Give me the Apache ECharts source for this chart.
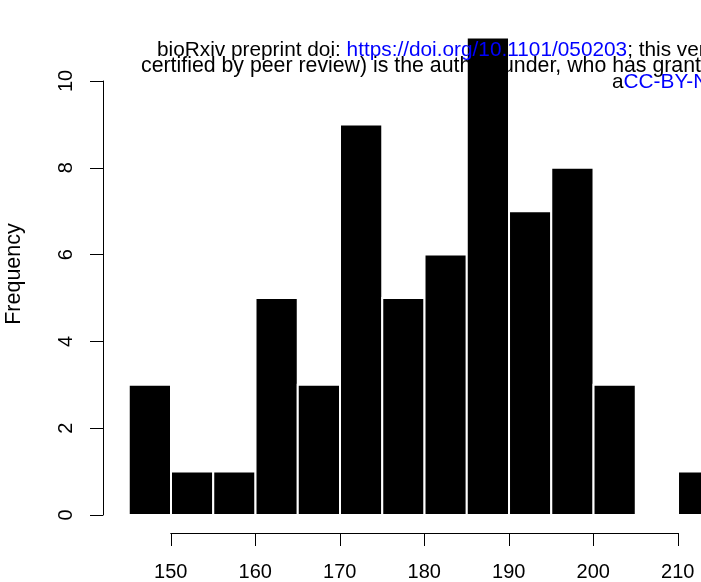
<!DOCTYPE html>
<html>
<head>
<meta charset="utf-8">
<script src="https://cdn.jsdelivr.net/npm/echarts@6/dist/echarts.min.js"></script>
<style>
  html, body { margin: 0; padding: 0; background: #fff; }
  #chart { width: 701px; height: 582px; }
</style>
</head>
<body>
<div id="chart"></div>
<script>
// Histogram bins (width 5) and their counts
const binStarts = [145, 150, 155, 160, 165, 170, 175, 180, 185, 190, 195, 200, 205, 210];
const binWidth = 5;
const counts = [3, 1, 1, 5, 3, 9, 5, 6, 11, 7, 8, 3, 0, 1];

// Axis ticks
const xTicks = [150, 160, 170, 180, 190, 200, 210];
const yTicks = [0, 2, 4, 6, 8, 10];

const yLabel = 'Frequency';
const FONT = 'Liberation Sans, Arial, Helvetica, sans-serif';

const bars = binStarts.map((s, i) => [s, s + binWidth, counts[i]]);

const chart = echarts.init(document.getElementById('chart'), null, { renderer: 'canvas' });

chart.setOption({
  animation: false,
  backgroundColor: '#ffffff',
  grid: [
    // plotting region: x 145..212.5 (last bin runs past the right edge), y 0..10
    { left: 128.75, top: 81, width: 570.4, height: 434 },
    // region that carries the bottom axis, spanning 150..210 only
    { left: 170.75, top: 500, width: 507, height: 33 }
  ],
  xAxis: [
    { gridIndex: 0, type: 'value', min: 145, max: 212.5, show: false },
    {
      gridIndex: 1, type: 'value',
      min: xTicks[0], max: xTicks[xTicks.length - 1], interval: 10,
      position: 'bottom',
      axisLine: { show: true, lineStyle: { color: '#000', width: 1 } },
      axisTick: { show: true, length: 13, lineStyle: { color: '#000', width: 1 } },
      axisLabel: { show: true, margin: 29, color: '#000', fontSize: 20, fontFamily: FONT },
      splitLine: { show: false }
    }
  ],
  yAxis: [
    {
      gridIndex: 0, type: 'value',
      min: yTicks[0], max: yTicks[yTicks.length - 1], interval: 2,
      position: 'left', offset: 25.75,
      axisLine: { show: true, lineStyle: { color: '#000', width: 1 } },
      axisTick: { show: true, length: 13, lineStyle: { color: '#000', width: 1 } },
      axisLabel: { show: true, rotate: 90, margin: 27, color: '#000', fontSize: 20, fontFamily: FONT },
      splitLine: { show: false }
    },
    { gridIndex: 1, type: 'value', show: false }
  ],
  series: [{
    type: 'custom',
    xAxisIndex: 0,
    yAxisIndex: 0,
    clip: false,
    data: bars,
    encode: { x: [0, 1], y: 2 },
    renderItem: function (params, api) {
      const p0 = api.coord([api.value(0), 0]);
      const p1 = api.coord([api.value(1), api.value(2)]);
      return {
        type: 'rect',
        shape: { x: p0[0], y: p1[1], width: p1[0] - p0[0], height: p0[1] - p1[1] },
        style: { fill: '#000', stroke: '#fff', lineWidth: 2 }
      };
    }
  }],
  graphic: [
    {
      type: 'text', z: 10,
      x: 14, y: 274, rotation: Math.PI / 2,
      style: {
        text: yLabel, fill: '#000', font: '21.5px ' + FONT,
        align: 'center', verticalAlign: 'middle'
      }
    },
    {
      type: 'text', z: 100, x: 157, y: 50,
      style: {
        text: '{k|bioRxiv preprint doi: }{b|https://doi.org/10.1101/050203}{k|; this version}',
        verticalAlign: 'middle', align: 'left',
        rich: {
          k: { fill: '#000', fontSize: 20.8, fontFamily: FONT },
          b: { fill: '#0000ff', fontSize: 20.8, fontFamily: FONT }
        }
      }
    },
    {
      type: 'text', z: 100, x: 141, y: 66.5,
      style: {
        text: 'certified by peer review) is the author/funder, who has granted bioRxiv a license',
        fill: '#000', font: '21.3px ' + FONT, verticalAlign: 'middle', align: 'left'
      }
    },
    {
      type: 'text', z: 100, x: 612, y: 82,
      style: {
        text: '{k|a}{b|CC-BY-NC-ND 4.0 International license}',
        verticalAlign: 'middle', align: 'left',
        rich: {
          k: { fill: '#000', fontSize: 20.8, fontFamily: FONT },
          b: { fill: '#0000ff', fontSize: 20.8, fontFamily: FONT }
        }
      }
    }
  ]
});
</script>
</body>
</html>
